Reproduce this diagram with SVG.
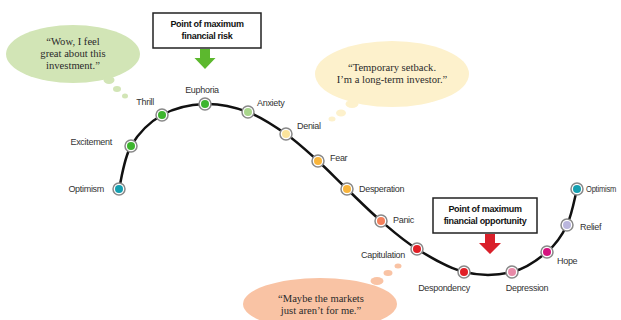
<svg xmlns="http://www.w3.org/2000/svg" width="621" height="320" viewBox="0 0 621 320">
<style>
.lbl{font-family:"Liberation Sans Narrow","Liberation Sans",Arial,sans-serif;font-size:9px;fill:#333;letter-spacing:-0.3px}
.q{font-family:"Liberation Serif","Times New Roman",serif;font-size:10.6px;fill:#2a2a2a;text-anchor:middle}
.bt{font-family:"Liberation Sans Narrow","Liberation Sans",Arial,sans-serif;font-size:9px;font-weight:bold;fill:#111;text-anchor:middle;letter-spacing:-0.3px}
.ring{fill:#fff;stroke:#888;stroke-width:1.5}
.box{fill:#fff;stroke:#222;stroke-width:1.5}
</style>
<rect width="621" height="320" fill="#fff"/>
<g id="bubble-green" fill="#d2e5b6">
<ellipse cx="73" cy="54" rx="67" ry="29"/>
<ellipse cx="109" cy="80" rx="5.5" ry="4"/>
<ellipse cx="117" cy="89" rx="4" ry="3"/>
<ellipse cx="125" cy="96" rx="3" ry="2.5"/>
<text class="q" x="73" y="45">“Wow, I feel</text>
<text class="q" x="73" y="57">great about this</text>
<text class="q" x="73" y="69">investment.”</text>
</g>
<g id="bubble-yellow" fill="#fdf1cc">
<ellipse cx="392" cy="74" rx="77" ry="33"/>
<ellipse cx="352" cy="104" rx="6.5" ry="4"/>
<ellipse cx="341" cy="113" rx="5" ry="3.5"/>
<ellipse cx="332" cy="119" rx="3.5" ry="2.5"/>
<text class="q" x="392" y="71">“Temporary setback.</text>
<text class="q" x="392" y="83">I’m a long-term investor.”</text>
</g>
<g id="bubble-orange" fill="#f9c3a4">
<ellipse cx="320" cy="304" rx="77" ry="26"/>
<ellipse cx="377" cy="281" rx="6.5" ry="4"/>
<ellipse cx="388" cy="273" rx="4.5" ry="3"/>
<ellipse cx="398" cy="266" rx="3.5" ry="2.5"/>
<text class="q" x="321" y="302">“Maybe the markets</text>
<text class="q" x="321" y="314">just aren’t for me.”</text>
</g>
<g id="connectors">
<path d="M119,189 C121,181.8 123.8,158.3 131,146 C138.2,133.7 149.7,122 162,115 C174.3,108 190.7,104.5 205,104 C219.3,103.5 234.5,107 248,112 C261.5,117 274.3,125.8 286,134 C297.7,142.2 307.8,151.8 318,161 C328.2,170.2 336.5,179 347,189 C357.5,199 369.3,211 381,221 C392.7,231 403.2,240.5 417,249 C430.8,257.5 448.2,268.2 464,272 C479.8,275.8 498.2,275.3 512,272 C525.8,268.7 537.8,259.8 547,252 C556.2,244.2 562,235.5 567,225 C572,214.5 575.3,195 577,189" fill="none" stroke="#111" stroke-width="2.5"/>
</g>
<g id="box-risk">
<rect class="box" x="153" y="13" width="108" height="35"/>
<text class="bt" x="207" y="27">Point of maximum</text>
<text class="bt" x="207" y="39">financial risk</text>
<path d="M200,49 H210 V58 H215.5 L205,69 L194.5,58 H200 Z" fill="#5cb82e"/>
</g>
<g id="box-opportunity">
<rect class="box" x="433" y="198" width="104" height="35"/>
<text class="bt" x="485" y="212">Point of maximum</text>
<text class="bt" x="485" y="224">financial opportunity</text>
<path d="M485,234 H495 V243 H501 L490,254 L479,243 H485 Z" fill="#d9202a"/>
</g>
<g id="n-optimism1"><circle class="ring" cx="119" cy="189" r="6"/><circle cx="119" cy="189" r="4" fill="#159fb0"/><text class="lbl" x="104" y="192" text-anchor="end">Optimism</text></g>
<g id="n-excitement"><circle class="ring" cx="131" cy="146" r="6"/><circle cx="131" cy="146" r="4" fill="#3db52e"/><text class="lbl" x="112" y="145" text-anchor="end">Excitement</text></g>
<g id="n-thrill"><circle class="ring" cx="162" cy="115" r="6"/><circle cx="162" cy="115" r="4" fill="#3db52e"/><text class="lbl" x="154" y="105" text-anchor="end">Thrill</text></g>
<g id="n-euphoria"><circle class="ring" cx="205" cy="104" r="6"/><circle cx="205" cy="104" r="4" fill="#3db52e"/><text class="lbl" x="202" y="93" text-anchor="middle">Euphoria</text></g>
<g id="n-anxiety"><circle class="ring" cx="248" cy="112" r="6"/><circle cx="248" cy="112" r="4" fill="#a9d68c"/><text class="lbl" x="257" y="106">Anxiety</text></g>
<g id="n-denial"><circle class="ring" cx="286" cy="134" r="6"/><circle cx="286" cy="134" r="4" fill="#fbe49c"/><text class="lbl" x="297" y="129">Denial</text></g>
<g id="n-fear"><circle class="ring" cx="318" cy="161" r="6"/><circle cx="318" cy="161" r="4" fill="#f9b53c"/><text class="lbl" x="330" y="161">Fear</text></g>
<g id="n-desperation"><circle class="ring" cx="347" cy="189" r="6"/><circle cx="347" cy="189" r="4" fill="#f9b53c"/><text class="lbl" x="359" y="192">Desperation</text></g>
<g id="n-panic"><circle class="ring" cx="381" cy="221" r="6"/><circle cx="381" cy="221" r="4" fill="#f4805c"/><text class="lbl" x="393" y="223">Panic</text></g>
<g id="n-capitulation"><circle class="ring" cx="417" cy="249" r="6"/><circle cx="417" cy="249" r="4" fill="#e11f26"/><text class="lbl" x="405" y="258" text-anchor="end">Capitulation</text></g>
<g id="n-despondency"><circle class="ring" cx="464" cy="272" r="6"/><circle cx="464" cy="272" r="4" fill="#e11f26"/><text class="lbl" x="444" y="291" text-anchor="middle">Despondency</text></g>
<g id="n-depression"><circle class="ring" cx="512" cy="272" r="6"/><circle cx="512" cy="272" r="4" fill="#e88aa8"/><text class="lbl" x="527" y="291" text-anchor="middle">Depression</text></g>
<g id="n-hope"><circle class="ring" cx="547" cy="252" r="6"/><circle cx="547" cy="252" r="4" fill="#d5127f"/><text class="lbl" x="557" y="264">Hope</text></g>
<g id="n-relief"><circle class="ring" cx="567" cy="225" r="6"/><circle cx="567" cy="225" r="4" fill="#bab6dd"/><text class="lbl" x="580" y="230">Relief</text></g>
<g id="n-optimism2"><circle class="ring" cx="577" cy="189" r="6"/><circle cx="577" cy="189" r="4" fill="#159fb0"/><text class="lbl" x="586" y="192" font-size="8.5" textLength="30" lengthAdjust="spacingAndGlyphs">Optimism</text></g>
</svg>
